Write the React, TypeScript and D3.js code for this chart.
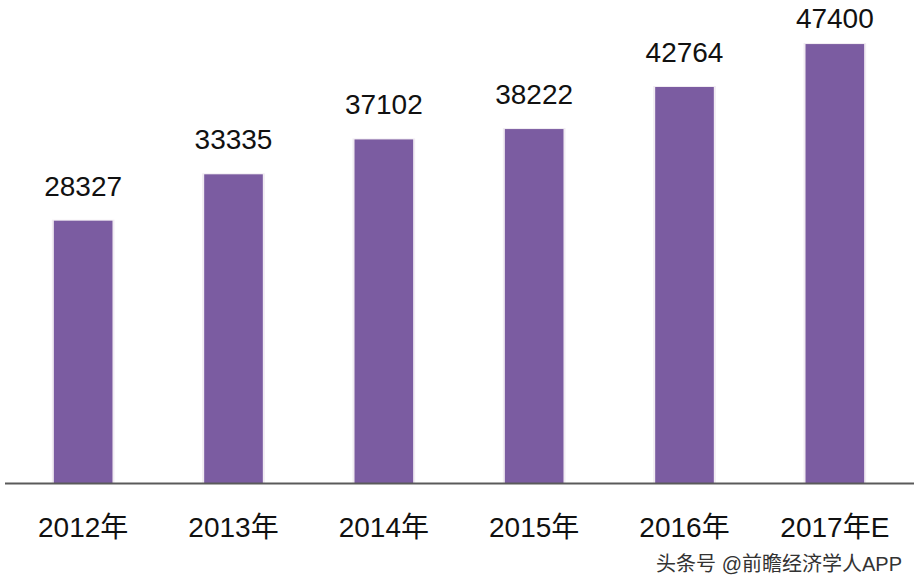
import React from "react";
import * as d3 from "d3";

const categories = ["2012年", "2013年", "2014年", "2015年", "2016年", "2017年E"];
const values = [28327, 33335, 37102, 38222, 42764, 47400];
const credit = "头条号 @前瞻经济学人APP";

const W = 914;
const H = 588;
const FONT = "'Liberation Sans', Arial, 'Noto Sans CJK SC', sans-serif";

export default function App() {
  const x = d3
    .scaleBand<string>()
    .domain(categories)
    .range([8, 910])
    .paddingInner(0.61)
    .paddingOuter(0.305);
  const y = d3.scaleLinear().domain([0, 50000]).range([483, 20]);

  return (
    <svg
      width={W}
      height={H}
      style={{ position: "absolute", left: 0, top: 0, background: "#fff" }}
      fontFamily={FONT}
    >
      <rect x={0} y={0} width={W} height={H} fill="#fff" />
      {categories.map((c, i) => {
        const bx = x(c)!;
        const by = y(values[i]);
        return (
          <g key={c}>
            <rect
              x={bx - 2}
              y={by - 1}
              width={x.bandwidth() + 4}
              height={y(0) - by + 1}
              fill="#f1ecf2"
            />
            <rect
              x={bx}
              y={by}
              width={x.bandwidth()}
              height={y(0) - by}
              fill="#7b5ca1"
            />
            <text
              x={bx + x.bandwidth() / 2}
              y={Math.max(by - 25, 28)}
              textAnchor="middle"
              fontSize={28}
              fill="#111"
            >
              {values[i]}
            </text>
            <text
              x={bx + x.bandwidth() / 2}
              y={537}
              textAnchor="middle"
              fontSize={28}
              fill="#111"
            >
              {c}
            </text>
          </g>
        );
      })}
      <line x1={5} x2={W} y1={y(0) + 0.5} y2={y(0) + 0.5} stroke="#5a5a5a" strokeWidth={2} />
      <text x={902} y={571} textAnchor="end" fontSize={20} fill="#333">
        {credit}
      </text>
    </svg>
  );
}
